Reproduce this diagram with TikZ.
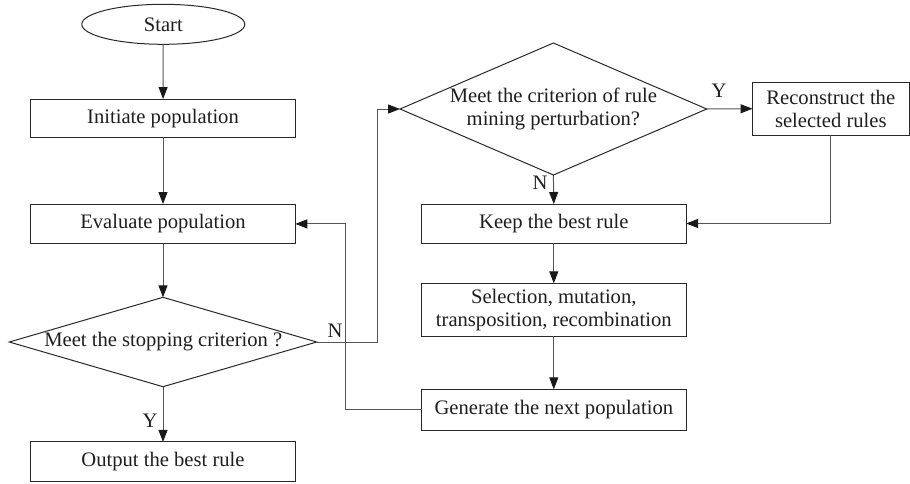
\documentclass[tikz,border=0pt]{standalone}
\usepackage{fontspec}
\setmainfont{Liberation Serif}
\usetikzlibrary{shapes.geometric,arrows.meta,calc}
\definecolor{boxline}{RGB}{40,40,40}
\definecolor{connc}{RGB}{85,85,85}
\definecolor{txtc}{RGB}{30,30,30}
\begin{document}
\begin{tikzpicture}[x=1pt,y=-1pt,
  every node/.style={font=\fontsize{20.6}{23.5}\selectfont, text=txtc, inner sep=0pt, outer sep=0pt},
  procbox/.style={draw=boxline, line width=1pt, minimum width=264.6pt, align=center},
  dia/.style={diamond, draw=boxline, line width=1pt},
  term/.style={ellipse, draw=boxline, line width=1pt, minimum width=163pt, minimum height=40pt},
  conn/.style={draw=connc, line width=1pt},
  arr/.style={conn, -{Triangle[length=12pt,width=9pt,color=black!90]}}
]
\useasboundingbox (0,0) rectangle (910,483);

% left column
\node[term] (start) at (163.3,24.3) {Start};
\node[procbox, minimum height=38.3pt] (init) at (163,118.2) {Initiate population};
\node[procbox, minimum height=39.7pt] (eval) at (163,223.9) {Evaluate population};
\node[dia, minimum width=307.4pt, minimum height=89.4pt] (stop) at (163,342) {};
\node (stoptxt) at (163.3,342) {Meet the stopping criterion ?};
\node[procbox, minimum height=39.7pt] (out) at (163,461.8) {Output the best rule};

% right column
\node[dia, minimum width=306.7pt, minimum height=132pt] (pert) at (553.4,109) {};
\node[align=center] (perttxt) at (553.4,109) {Meet the criterion of rule\\mining perturbation?};
\node[procbox, minimum width=156.5pt, minimum height=52.7pt] (recon) at (830.8,108.7) {Reconstruct the\\selected rules};
\node[procbox, minimum height=39pt] (keep) at (553.8,223.5) {Keep the best rule};
\node[procbox, minimum height=53pt] (sel) at (553.8,309.8) {Selection, mutation,\\transposition, recombination};
\node[procbox, minimum height=40.7pt] (gen) at (553.8,409.7) {Generate the next population};

% helper coordinates
\coordinate (c1) at (377.5,342);
\coordinate (c2) at (345.7,409.7);

% connectors
\draw[arr] (start) -- (init);
\draw[arr] (init) -- (eval);
\draw[arr] (eval) -- (stop.north);
\draw[arr] (stop.south) -- (out);
\draw[arr] (stop.east) -- (c1) |- (pert.west);
\draw[arr] (pert.east) -- (recon.west);
\draw[arr] (pert.south) -- (keep.north);
\draw[arr] (recon.south) |- (keep.east);
\draw[arr] (keep) -- (sel);
\draw[arr] (sel) -- (gen);
\draw[arr] (gen.west) -- (c2) |- (eval.east);

% labels
\node (ylab1) at (150,421) {Y};
\node (nlab1) at (335,330.7) {N};
\node (ylab2) at (719,91) {Y};
\node (nlab2) at (540,183) {N};
\end{tikzpicture}
\end{document}
